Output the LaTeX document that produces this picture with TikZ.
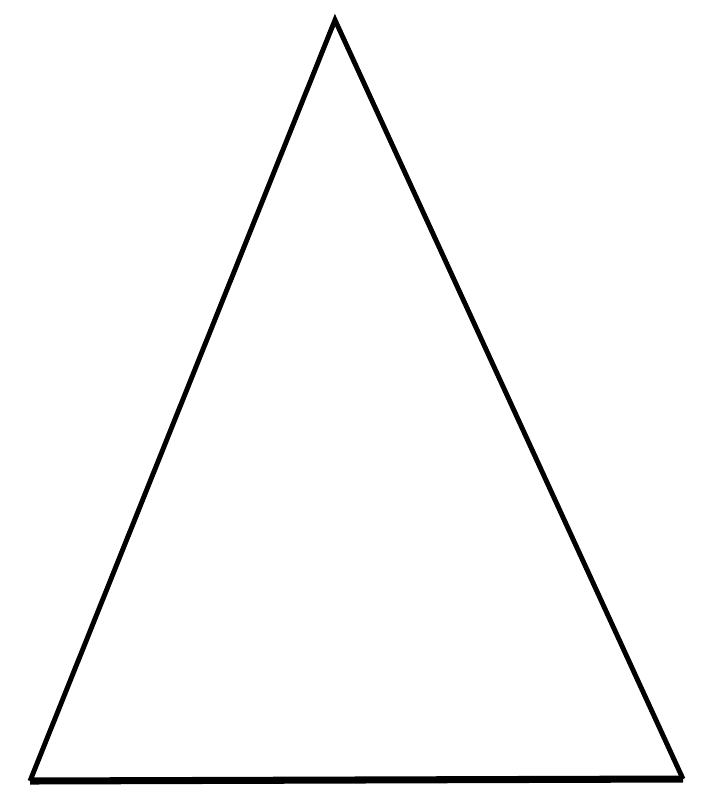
\documentclass[tikz,border=0pt]{standalone}
\usepackage{tikz}
\usetikzlibrary{calc}
\tikzset{
  edge/.style={draw=black, line width=1.4pt, line join=miter},
  base/.style={draw=black, line width=2pt},
}
\begin{document}
\begin{tikzpicture}[x=0.01cm, y=-0.01cm]
    \useasboundingbox (0,0) rectangle (700,797);
    \coordinate (apex) at (335,20);
    \coordinate (left) at (30,781);
    \coordinate (right) at (683,779);
    \draw[edge] (left) -- (apex) -- (right);
    \draw[base] (left) -- (right);
  \end{tikzpicture}
\end{document}
